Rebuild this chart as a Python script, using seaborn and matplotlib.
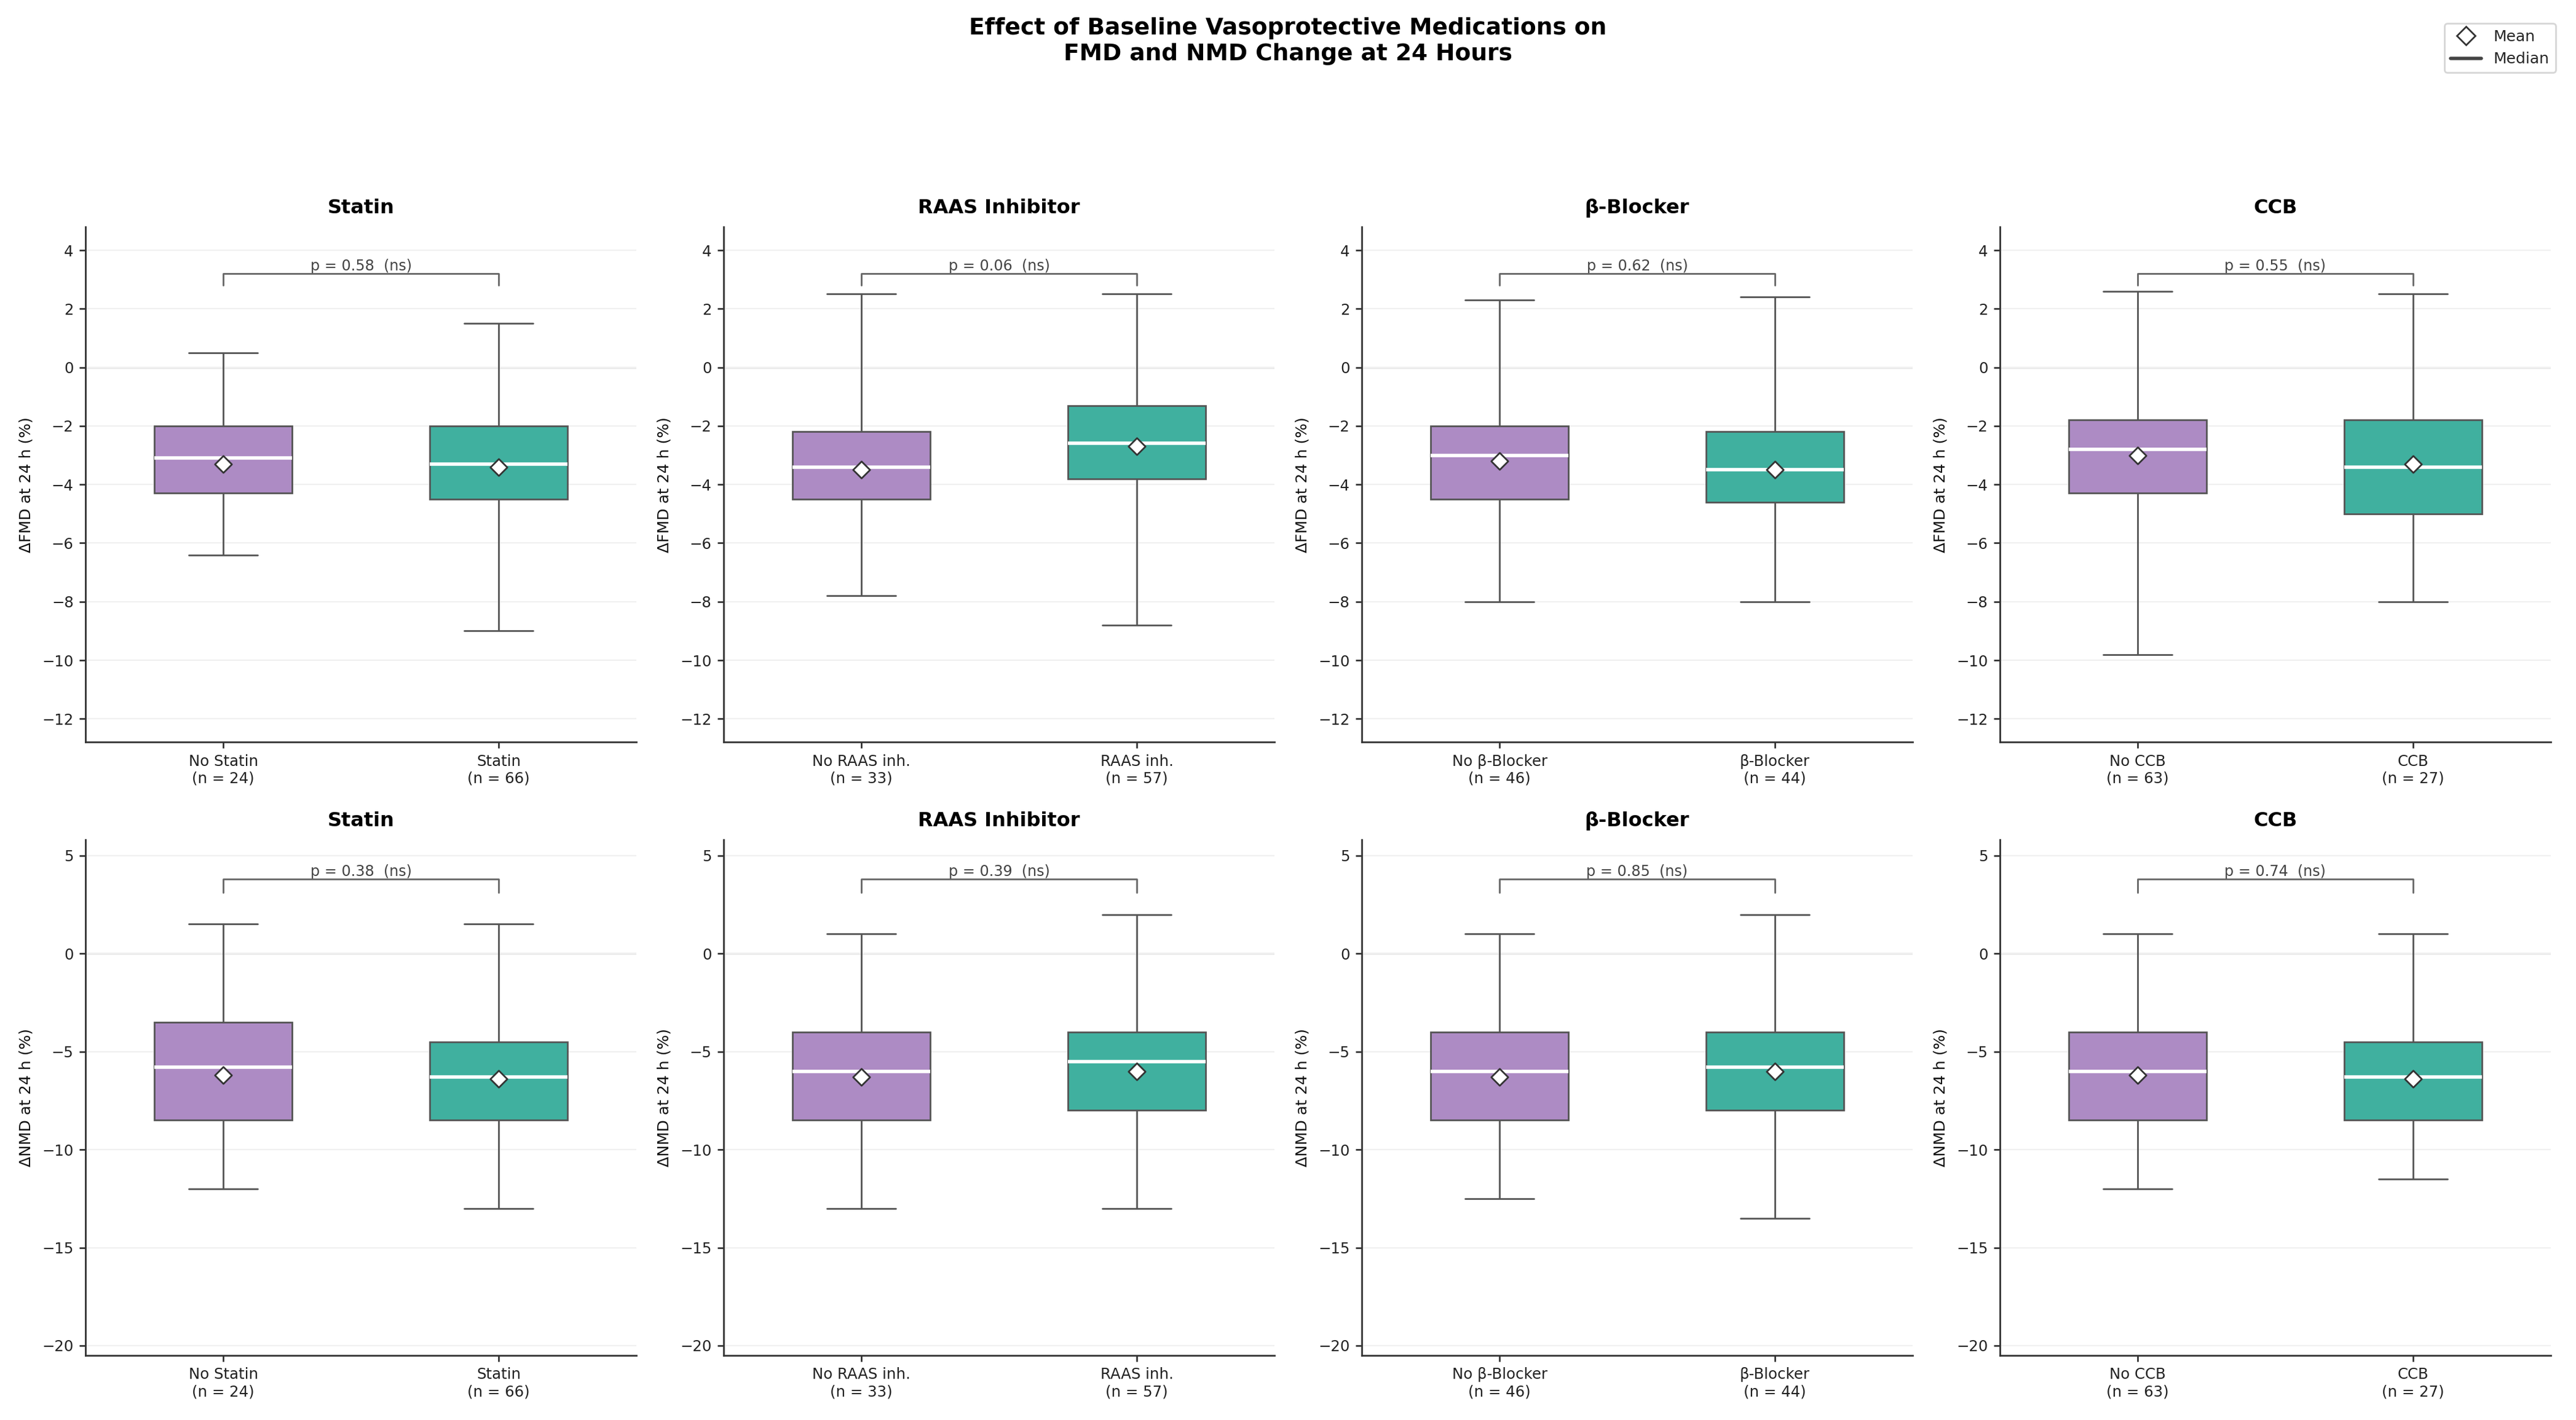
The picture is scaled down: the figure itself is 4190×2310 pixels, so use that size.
import numpy as np
import pandas as pd
import seaborn as sns
import matplotlib.pyplot as plt
from matplotlib.lines import Line2D


# panels (medication classes) and their two groups
PANEL_TITLES = ['Statin', 'RAAS Inhibitor', 'β-Blocker', 'CCB']
GROUP_NAMES = [('No Statin', 'Statin'),
               ('No RAAS inh.', 'RAAS inh.'),
               ('No β-Blocker', 'β-Blocker'),
               ('No CCB', 'CCB')]
GROUP_N = [(24, 66), (33, 57), (46, 44), (63, 27)]

# ΔFMD summary per panel: (without, with)
FMD_HIGH = [(0.5, 1.5), (2.5, 2.5), (2.3, 2.4), (2.6, 2.5)]
FMD_Q3 = [(-2.0, -2.0), (-2.2, -1.3), (-2.0, -2.2), (-1.8, -1.8)]
FMD_MED = [(-3.1, -3.3), (-3.4, -2.6), (-3.0, -3.5), (-2.8, -3.4)]
FMD_Q1 = [(-4.3, -4.5), (-4.5, -3.8), (-4.5, -4.6), (-4.3, -5.0)]
FMD_LOW = [(-6.4, -9.0), (-7.8, -8.8), (-8.0, -8.0), (-9.8, -8.0)]
FMD_MEAN = [(-3.3, -3.4), (-3.5, -2.7), (-3.2, -3.5), (-3.0, -3.3)]
FMD_P = [0.58, 0.06, 0.62, 0.55]

# ΔNMD summary per panel
NMD_HIGH = [(1.5, 1.5), (1.0, 2.0), (1.0, 2.0), (1.0, 1.0)]
NMD_Q3 = [(-3.5, -4.5), (-4.0, -4.0), (-4.0, -4.0), (-4.0, -4.5)]
NMD_MED = [(-5.8, -6.3), (-6.0, -5.5), (-6.0, -5.8), (-6.0, -6.3)]
NMD_Q1 = [(-8.5, -8.5), (-8.5, -8.0), (-8.5, -8.0), (-8.5, -8.5)]
NMD_LOW = [(-12.0, -13.0), (-13.0, -13.0), (-12.5, -13.5), (-12.0, -11.5)]
NMD_MEAN = [(-6.2, -6.4), (-6.3, -6.0), (-6.3, -6.0), (-6.2, -6.4)]
NMD_P = [0.38, 0.39, 0.85, 0.74]

PALETTE = ['#ad8bc4', '#40b09f']
EDGE = '#555555'


def summary_frame(i, high, q3, med, q1, low):
    """Five-number summary per group as long-form rows (whiskers span min-max)."""
    rows = []
    for g in range(2):
        label = f'{GROUP_NAMES[i][g]}\n(n = {GROUP_N[i][g]})'
        for v in (low[i][g], q1[i][g], med[i][g], q3[i][g], high[i][g]):
            rows.append({'group': label, 'value': v})
    return pd.DataFrame(rows)


def draw_panel(ax, i, stats, means, pvals, ylabel, ylim, yticks, bracket):
    df = summary_frame(i, *stats)
    order = list(dict.fromkeys(df['group']))
    sns.boxplot(data=df, x='group', y='value', hue='group', order=order, hue_order=order,
                palette=PALETTE, saturation=1, width=0.5, whis=(0, 100), showfliers=False,
                linecolor=EDGE, linewidth=1.0, legend=False, ax=ax,
                medianprops=dict(color='white', linewidth=2.0))

    mean_df = pd.DataFrame({'group': order, 'mean': list(means[i])})
    sns.stripplot(data=mean_df, x='group', y='mean', order=order, jitter=False,
                  marker='D', size=7, color='white', edgecolor='#333333',
                  linewidth=1.0, zorder=5, ax=ax)

    # significance bracket
    top, tip = bracket
    ax.plot([0, 0, 1, 1], [tip, top, top, tip], color='#666666', lw=1.0, zorder=4)
    ax.text(0.5, top, f'p = {pvals[i]:.2f}  (ns)', ha='center', va='bottom',
            fontsize=8.6, color='#444444')

    ax.set_title(PANEL_TITLES[i], fontsize=11.5, fontweight='bold', color='black', pad=8)
    ax.set_xlabel('')
    ax.set_ylabel(ylabel, fontsize=9, color='#111111', labelpad=5)
    ax.set_ylim(*ylim)
    ax.set_xlim(-0.5, 1.5)
    ax.set_yticks(yticks)
    ax.yaxis.grid(True, color='#f0f0f0', lw=0.8)
    ax.axhline(0, color='#e4e4e4', lw=1.2, zorder=0)
    ax.set_axisbelow(True)
    ax.tick_params(labelsize=8.8, colors='#222222', length=3.5, width=0.9)
    for side in ('left', 'bottom'):
        ax.spines[side].set_color('#333333')
        ax.spines[side].set_linewidth(1.0)
    sns.despine(ax=ax)


def main():
    sns.set_theme(style='ticks')
    plt.rcParams['font.family'] = ['DejaVu Sans']

    fig, axes = plt.subplots(2, 4, figsize=(20.95, 11.55))
    fig.subplots_adjust(left=0.0332, right=0.9902, top=0.8403, bottom=0.0455,
                        wspace=0.1585, hspace=0.1895)

    fmd_stats = (FMD_HIGH, FMD_Q3, FMD_MED, FMD_Q1, FMD_LOW)
    nmd_stats = (NMD_HIGH, NMD_Q3, NMD_MED, NMD_Q1, NMD_LOW)
    for i in range(4):
        draw_panel(axes[0, i], i, fmd_stats, FMD_MEAN, FMD_P, 'ΔFMD at 24 h (%)',
                   (-12.8, 4.8), np.arange(-12, 5, 2), (3.2, 2.8))
        draw_panel(axes[1, i], i, nmd_stats, NMD_MEAN, NMD_P, 'ΔNMD at 24 h (%)',
                   (-20.5, 5.8), np.arange(-20, 6, 5), (3.8, 3.1))

    fig.suptitle('Effect of Baseline Vasoprotective Medications on\nFMD and NMD Change at 24 Hours',
                 fontsize=13.5, fontweight='bold', color='black', y=0.971, va='center')

    handles = [Line2D([], [], marker='D', linestyle='none', markersize=7.5,
                      markerfacecolor='white', markeredgecolor='#333333'),
               Line2D([], [], color='#444444', lw=2)]
    fig.legend(handles, ['Mean', 'Median'], loc='upper right', bbox_to_anchor=(0.995, 0.989),
               fontsize=9.0, frameon=True, edgecolor='#cccccc', fancybox=True)

    fig.savefig('out.png', dpi=200)


if __name__ == '__main__':
    main()
